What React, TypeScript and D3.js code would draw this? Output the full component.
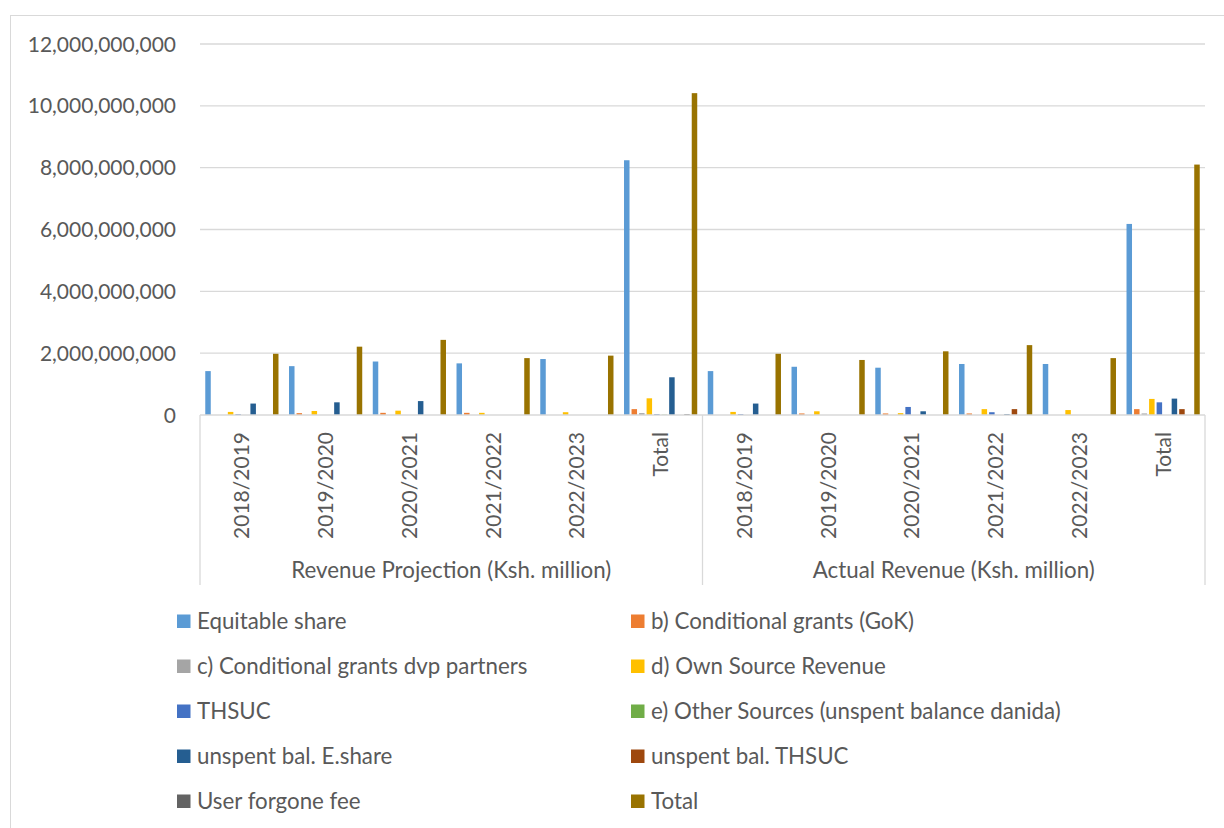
import React from 'react'
import { scaleBand, scaleLinear, format } from 'd3'

const years = ['2018/2019', '2019/2020', '2020/2021', '2021/2022', '2022/2023', 'Total']
const groups = ['Revenue Projection (Ksh. million)', 'Actual Revenue (Ksh. million)']

const seriesNames = [
  'Equitable share',
  'b) Conditional grants (GoK)',
  'c) Conditional grants dvp partners',
  'd) Own Source Revenue',
  'THSUC',
  'e) Other Sources (unspent balance danida)',
  'unspent bal. E.share',
  'unspent bal. THSUC',
  'User forgone fee',
  'Total',
]
const colors = ['#5B9BD5', '#ED7D31', '#A5A5A5', '#FFC000', '#4472C4', '#70AD47', '#255E91', '#9E480E', '#636363', '#997300']

// values in billions, per category (12 categories: projection years + total, actual years + total)
const equitableShare = [1.42, 1.58, 1.73, 1.67, 1.81, 8.24, 1.42, 1.56, 1.53, 1.65, 1.65, 6.18]
const condGok = [0, 0.06, 0.07, 0.07, 0, 0.19, 0, 0.05, 0.05, 0.05, 0, 0.19]
const condDvp = [0, 0, 0, 0, 0, 0.06, 0, 0, 0, 0, 0, 0.05]
const ownSource = [0.1, 0.13, 0.14, 0.07, 0.09, 0.54, 0.1, 0.12, 0.06, 0.19, 0.16, 0.52]
const thsuc = [0.03, 0, 0, 0, 0, 0.03, 0.03, 0, 0.26, 0.09, 0, 0.41]
const otherSources = [0, 0, 0, 0, 0, 0.01, 0, 0, 0, 0, 0, 0]
const unspentEshare = [0.37, 0.41, 0.45, 0, 0, 1.22, 0.37, 0, 0.12, 0.03, 0, 0.53]
const unspentThsuc = [0, 0, 0, 0, 0, 0, 0, 0, 0, 0.19, 0, 0.19]
const userForgone = [0, 0, 0, 0, 0, 0.03, 0, 0, 0, 0, 0, 0]
const totals = [1.98, 2.21, 2.43, 1.84, 1.92, 10.41, 1.98, 1.78, 2.06, 2.26, 1.84, 8.1]

const yTicks = [0, 2e9, 4e9, 6e9, 8e9, 10e9, 12e9]

const seriesValues = [equitableShare, condGok, condDvp, ownSource, thsuc, otherSources, unspentEshare, unspentThsuc, userForgone, totals]

const FONT = 'Lato, "Open Sans", sans-serif'
const TXT = '#595959'
const GRID = '#d9d9d9'

export default function App() {
  const left = 200, right = 1205, top = 44, bottom = 415
  const categories = groups.flatMap((g, gi) => years.map(yr => `${gi}-${yr}`))

  const x0 = scaleBand<string>().domain(categories).range([left, right])
  const x1 = scaleBand<number>()
    .domain(seriesNames.map((_, i) => i))
    .range([0, x0.bandwidth()])
    .paddingInner(0.27)
    .paddingOuter(0.7)
  const y = scaleLinear().domain([0, 12e9]).range([bottom, top])
  const fmt = format(',')

  const groupW = (right - left) / groups.length

  return (
    <svg width={1224} height={828} style={{ position: 'absolute', left: 0, top: 0, background: '#fff' }} fontFamily={FONT}>
      <rect x={10.5} y={15.5} width={1300} height={900} fill="#fff" stroke={GRID} />

      {yTicks.map(t => (
        <g key={t}>
          {t > 0 && <line x1={left} x2={right} y1={y(t)} y2={y(t)} stroke={GRID} strokeWidth={1.3} />}
          <text x={176} y={y(t)} dy="0.36em" textAnchor="end" fontSize={21} fill={TXT}>{fmt(t)}</text>
        </g>
      ))}

      {seriesValues.map((vals, si) => (
        <g key={si} fill={colors[si]}>
          {vals.map((v, ci) => v > 0 && (
            <rect
              key={ci}
              x={(x0(categories[ci]) ?? 0) + (x1(si) ?? 0)}
              y={y(v * 1e9)}
              width={x1.bandwidth()}
              height={bottom - y(v * 1e9)}
            />
          ))}
        </g>
      ))}

      <line x1={left} x2={right} y1={bottom} y2={bottom} stroke={GRID} strokeWidth={1.3} />
      {[0, 1, 2].map(i => (
        <line key={i} x1={left + i * groupW} x2={left + i * groupW} y1={bottom} y2={585} stroke={GRID} strokeWidth={1.3} />
      ))}

      {categories.map((c, ci) => {
        const cx = (x0(c) ?? 0) + x0.bandwidth() / 2
        return (
          <text key={c} transform={`translate(${cx + 7.5},432) rotate(-90)`} textAnchor="end" fontSize={21} fill={TXT}>
            {years[ci % years.length]}
          </text>
        )
      })}

      {groups.map((g, gi) => (
        <text key={g} x={left + groupW * (gi + 0.5)} y={578} textAnchor="middle" fontSize={22.3} fill={TXT}>{g}</text>
      ))}

      {seriesNames.map((name, i) => {
        const col = i % 2
        const row = Math.floor(i / 2)
        const lx = col === 0 ? 177 : 631
        const ly = 621 + row * 45
        return (
          <g key={name}>
            <rect x={lx} y={ly - 6.5} width={13.5} height={13.5} fill={colors[i]} />
            <text x={lx + 20} y={ly} dy="0.36em" fontSize={22.3} fill={TXT}>{name}</text>
          </g>
        )
      })}
    </svg>
  )
}
